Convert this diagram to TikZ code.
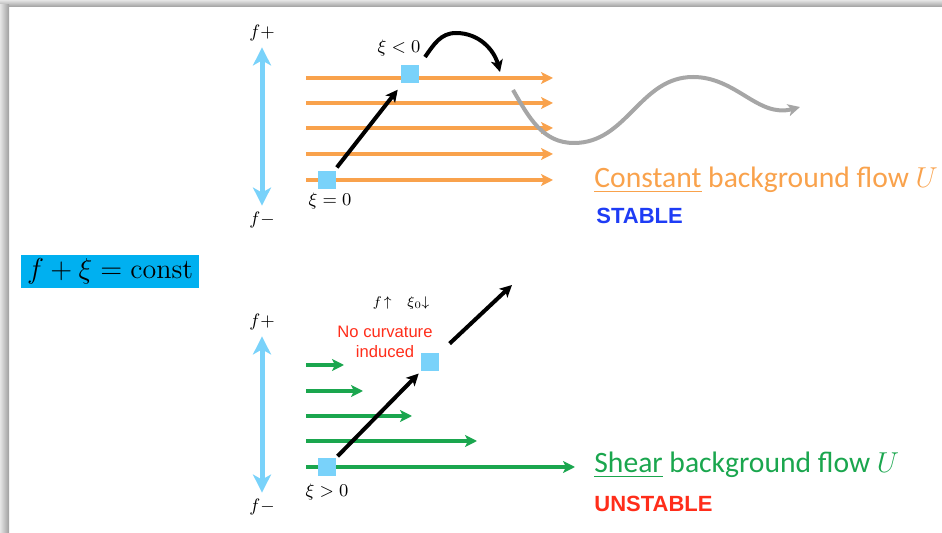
\documentclass[tikz,border=0pt]{standalone}
\usepackage{amsmath}
\usepackage{fontspec}
\usepackage{xcolor}
\usetikzlibrary{arrows.meta}
\newfontfamily\calibri{Carlito}
\newfontfamily\arial{Liberation Sans}
\definecolor{floworange}{HTML}{F9A24C}
\definecolor{flowgreen}{HTML}{1AA64E}
\definecolor{skyblue}{HTML}{79D2FA}
\definecolor{boxblue}{HTML}{00B0F0}
\definecolor{stableblue}{HTML}{1E3CF5}
\definecolor{unstred}{HTML}{FF2D1A}
\definecolor{wavegray}{HTML}{A6A6A6}

\begin{document}
\begin{tikzpicture}[x=0.5pt,y=-0.5pt,
  parcel/.style={fill=skyblue,minimum size=9pt,inner sep=0pt},
  mlbl/.style={font=\fontsize{9.5}{11}\selectfont,inner sep=1pt},
  updown/.style={skyblue,line width=2.5pt,{Stealth[length=9pt,width=9pt,inset=2.5pt]}-{Stealth[length=9pt,width=9pt,inset=2.5pt]},shorten <=2pt,shorten >=2pt},
  flow/.style={floworange,line width=2pt,-{Stealth[length=6pt,width=6pt,inset=1.5pt]}},
  shear/.style={flowgreen,line width=2pt,-{Stealth[length=6pt,width=6pt,inset=1.5pt]}},
  push/.style={black,line width=2pt,-{Stealth[length=6pt,width=6pt,inset=1.5pt]}},
  tag/.style={anchor=west,font=\calibri\fontsize{14.8}{17}\selectfont,inner sep=0pt}]
  \useasboundingbox (0,0) rectangle (942,533);
  % window frame
  \shade[top color=black!10,bottom color=black!38] (0,0) rectangle (942,7);
  \shade[left color=black!10,right color=black!38] (0,5) rectangle (9,533);
  \node[fill=boxblue,minimum width=89pt,minimum height=16.5pt,inner sep=0pt] (cons) at (110,271.5) {\fontsize{14}{16}\selectfont $f+\xi=\mathrm{const}$};

  % constant background flow
  \node[mlbl] (fp1) at (262,33) {$f+$}; \node[mlbl] (fm1) at (262,220) {$f-$};
  \draw[updown] (fp1) -- (fm1);
  \foreach \yy in {78,103,128,154,180} \draw[flow] (306,\yy) -- (553,\yy);
  \node[parcel] (p0) at (327,180) {}; \node[parcel] (p1) at (410,74) {};
  \node[mlbl] (xi0) at (330,201) {$\xi=0$}; \node[mlbl] (xineg) at (399,48) {$\xi<0$};
  \draw[push,shorten <=2pt,shorten >=4pt] (p0) -- (p1);
  \coordinate (lift) at (425,57); \coordinate (hop) at (500,72);
  \draw[push] (lift) to[out=55,in=180] (456,33) to[out=0,in=105] (hop);
  \draw[wavegray,line width=2pt,-{Stealth[length=6pt,width=6pt,inset=1.5pt]}] (513,90) to[out=-60,in=180] (574,143) to[out=0,in=180] (693,77) to[out=0,in=195] (800,107);
  \node[tag,text=floworange] (ctag) at (594,180) {\underline{Constant} background flow $U$};
  \node[anchor=west,inner sep=0pt,text=stableblue,font=\arial\bfseries\fontsize{11}{13}\selectfont] (stab) at (596,216) {STABLE};

  % shear background flow
  \node[mlbl] (fp2) at (262,322) {$f+$}; \node[mlbl] (fm2) at (262,507) {$f-$};
  \draw[updown] (fp2) -- (fm2);
  \foreach \yy/\xe in {365/344,391/363,416/412,441/477,467/575} \draw[shear] (306,\yy) -- (\xe,\yy);
  \node[parcel] (p2) at (327,467) {}; \node[parcel] (p3) at (430,362) {};
  \node[mlbl] (xipos) at (327,492) {$\xi>0$};
  \draw[push,shorten <=1pt,shorten >=1.5pt] (p2) -- (p3);
  \coordinate (shoot) at (512,285);
  \draw[push,shorten <=7pt] (p3) -- (shoot);
  \node[font=\fontsize{7.5}{9}\selectfont,inner sep=0pt] (fxi) at (401,303) {$f\!\uparrow\ \ \xi_{\scriptscriptstyle 0}\!\!\downarrow$};
  \node[align=center,text=unstred,font=\arial\fontsize{8.3}{10}\selectfont,inner sep=0pt] (nocurv) at (385,342) {No curvature\\induced};
  \node[tag,text=flowgreen] (stag) at (594,465) {\underline{Shear} background flow $U$};
  \node[anchor=west,inner sep=0pt,text=unstred,font=\arial\bfseries\fontsize{11}{13}\selectfont] (unstab) at (594,504) {UNSTABLE};
\end{tikzpicture}
\end{document}
